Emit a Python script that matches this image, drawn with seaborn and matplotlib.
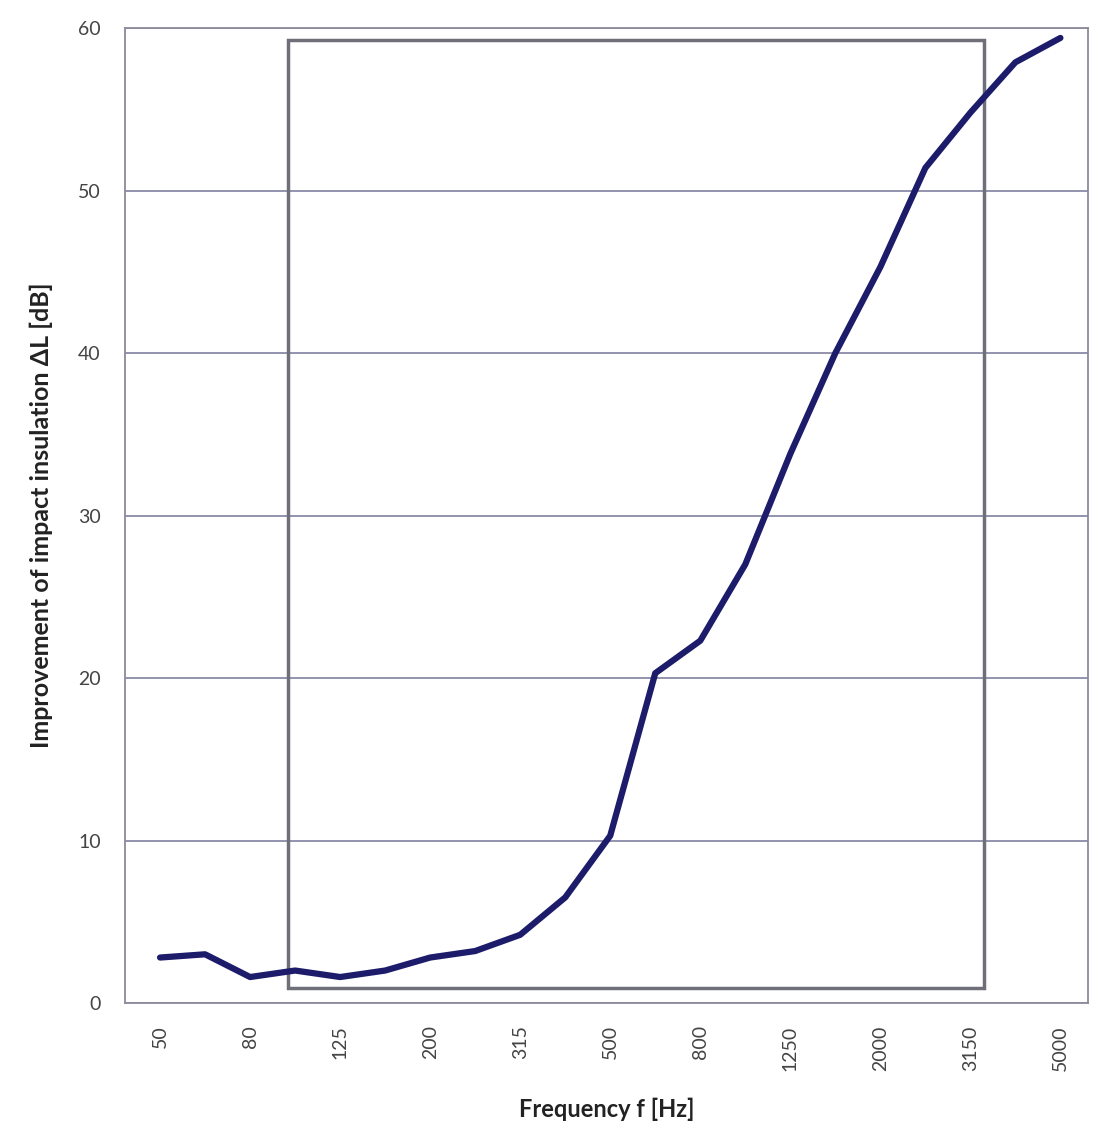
import pandas as pd
import seaborn as sns
import matplotlib.pyplot as plt
from matplotlib.patches import Rectangle

freqs = ["50", "63", "80", "100", "125", "160", "200", "250", "315", "400", "500",
         "630", "800", "1000", "1250", "1600", "2000", "2500", "3150", "4000", "5000"]
delta_l = [2.8, 3.0, 1.6, 2.0, 1.6, 2.0, 2.8, 3.2, 4.2, 6.5, 10.3,
           20.3, 22.3, 27.0, 33.8, 40.0, 45.3, 51.4, 54.8, 57.9, 59.4]
shown_labels = ["50", "80", "125", "200", "315", "500", "800", "1250", "2000", "3150", "5000"]

df = pd.DataFrame({"idx": range(len(freqs)), "freq": freqs, "dl": delta_l})

sns.set_style("white")
plt.rcParams["font.family"] = ["Lato", "DejaVu Sans"]

fig = plt.figure(figsize=(10.96, 11.27), dpi=100)
ax = fig.add_axes([0.114, 0.110, 0.879, 0.865])

sns.lineplot(data=df, x="idx", y="dl", color="#1c1c6b", linewidth=4.5, ax=ax)

# highlighted range box
ax.add_patch(Rectangle((2.85, 0.9), 18.3 - 2.85, 59.3 - 0.9, fill=False,
                       edgecolor="#6f6f7a", linewidth=2.5, zorder=1))

ax.set_xlim(-0.78, 20.62)
ax.set_ylim(0, 60)
ax.set_yticks(range(0, 61, 10))
ax.yaxis.grid(True, color="#8a8aa8", linewidth=1.3)
ax.set_xticks([i for i, f in enumerate(freqs) if f in shown_labels])
ax.set_xticklabels(shown_labels, rotation=90, fontsize=14, color="#444444")
ax.tick_params(axis="y", labelsize=14, labelcolor="#444444", pad=14)
ax.tick_params(axis="x", pad=16, length=0)
for s in ax.spines.values():
    s.set_color("#8a8a9a")
    s.set_linewidth(1.3)

ax.set_xlabel("Frequency f [Hz]", fontsize=17, fontweight="bold", color="#222222", labelpad=19)
ax.set_ylabel("Improvement of impact insulation ΔL [dB]", fontsize=18, fontweight="bold",
              color="#222222", labelpad=18)

plt.savefig("out.png", dpi=100)
plt.close()
